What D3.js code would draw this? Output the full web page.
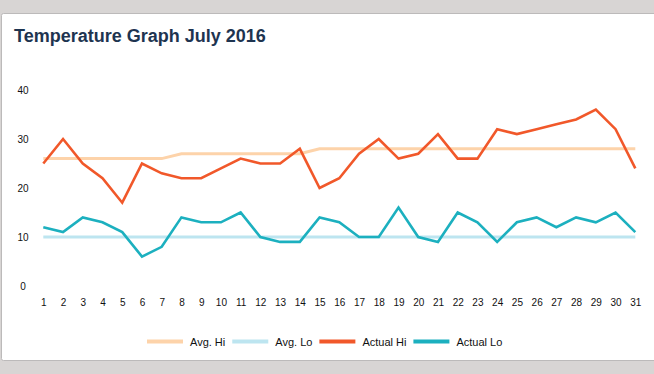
<!DOCTYPE html>
<html><head><meta charset="utf-8">
<script src="https://cdn.jsdelivr.net/npm/d3@7"></script>
<style>
html,body{margin:0;padding:0;background:#d8d5d4;}
svg{display:block;}
text{font-family:"Liberation Sans",Arial,Helvetica,sans-serif;}
</style></head>
<body>
<svg id="chart" width="654" height="374"></svg>
<script>
const days = d3.range(1, 32);
const avgHi = [26,26,26,26,26,26,26,27,27,27,27,27,27,27,28,28,28,28,28,28,28,28,28,28,28,28,28,28,28,28,28];
const avgLo = [10,10,10,10,10,10,10,10,10,10,10,10,10,10,10,10,10,10,10,10,10,10,10,10,10,10,10,10,10,10,10];
const actualHi = [25,30,25,22,17,25,23,22,22,24,26,25,25,28,20,22,27,30,26,27,31,26,26,32,31,32,33,34,36,32,24];
const actualLo = [12,11,14,13,11,6,8,14,13,13,15,10,9,9,14,13,10,10,16,10,9,15,13,9,13,14,12,14,13,15,11];
const yTicks = [0,10,20,30,40];
const seriesNames = ["Avg. Hi","Avg. Lo","Actual Hi","Actual Lo"];
const seriesValues = [avgHi, avgLo, actualHi, actualLo];
const seriesColors = ["#fdd3aa","#bde5f0","#f1582a","#1cb0bf"];
const seriesWidths = [3, 3, 2.6, 2.6];

const svg = d3.select("#chart");
// card
svg.append("rect").attr("x",1.5).attr("y",13.5).attr("width",660).attr("height",347)
  .attr("fill","#fff").attr("stroke","#bcbaba").attr("stroke-width",1).attr("rx",2);

svg.append("text").attr("x",14).attr("y",41.5).attr("font-size","18px").attr("font-weight","bold")
  .attr("fill","#1e3450").text("Temperature Graph July 2016");

const x = d3.scalePoint().domain(days).range([43.3, 635.3]);
const y = d3.scaleLinear().domain([0,40]).range([286, 90]);

// y labels
const yAxis = d3.axisLeft(y).tickValues(yTicks).tickSize(0).tickPadding(0);
const gy = svg.append("g").attr("transform","translate(23,0)").call(yAxis);
gy.select(".domain").remove();
gy.selectAll("text").attr("text-anchor","middle").attr("font-size","10px").attr("fill","#111")
  .attr("font-family","'Liberation Sans',Arial,sans-serif").attr("dy","0.35em");

const xAxis = d3.axisBottom(x).tickSize(0).tickPadding(0);
const gx = svg.append("g").attr("transform","translate(0,299)").call(xAxis);
gx.select(".domain").remove();
gx.selectAll("text").attr("font-size","10px").attr("fill","#111")
  .attr("font-family","'Liberation Sans',Arial,sans-serif");

const line = d3.line().x((d,i)=>x(days[i])).y(d=>y(d));
seriesValues.forEach((vals,k)=>{
  svg.append("path").datum(vals).attr("d",line).attr("fill","none")
    .attr("stroke",seriesColors[k]).attr("stroke-width",seriesWidths[k])
    .attr("stroke-linejoin","miter");
});

// legend
const lg = svg.append("g");
let cx = 147;
seriesNames.forEach((n,k)=>{
  lg.append("line").attr("x1",cx).attr("x2",cx+36).attr("y1",341.5).attr("y2",341.5)
    .attr("stroke",seriesColors[k]).attr("stroke-width",4);
  const t = lg.append("text").attr("x",cx+43).attr("y",345.5).attr("font-size","11px").attr("fill","#111").text(n);
  cx += 43 + t.node().getComputedTextLength() + 7;
});
</script>
</body></html>
